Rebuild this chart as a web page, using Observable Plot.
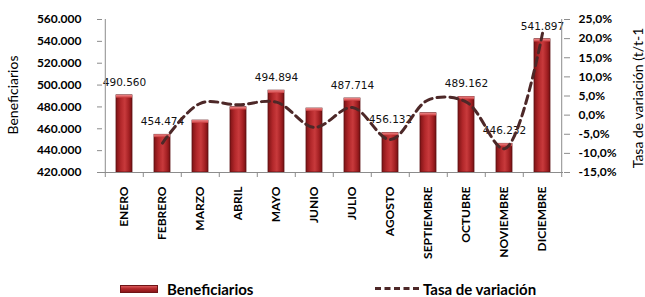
<!DOCTYPE html>
<html>
<head>
<meta charset="utf-8">
<script src="https://cdn.jsdelivr.net/npm/d3@7"></script>
<script src="https://cdn.jsdelivr.net/npm/@observablehq/plot@0.6"></script>
<style>
  html, body { margin: 0; padding: 0; background: #fff; }
  #chart { position: relative; width: 645px; height: 297px; overflow: hidden; }
  .legend { position: relative; height: 17px; font-family: Lato, "Open Sans", sans-serif; font-weight: bold; font-size: 15px; color: #000; }
  .legend .item { position: absolute; top: 0; display: flex; align-items: center; height: 17px; }
  .swatch { width: 38px; height: 8px; background: linear-gradient(#d9595b, #b3282b 45%, #8a1719); border: 1px solid #6e1416; margin-right: 9px; box-sizing: border-box; }
  .dash { width: 44px; height: 0; border-top: 3px dashed #4d2828; margin-right: 4px; }
</style>
</head>
<body>
<div id="chart"></div>
<script>
const months = ["ENERO","FEBRERO","MARZO","ABRIL","MAYO","JUNIO","JULIO","AGOSTO","SEPTIEMBRE","OCTUBRE","NOVIEMBRE","DICIEMBRE"];
const beneficiarios = [490560, 454474, 467500, 479700, 494894, 478500, 487714, 456132, 474200, 489162, 446232, 541897];
const showLabel = [true, true, false, false, true, false, true, true, false, true, true, true];
const tasa = [null, -7.3, 3.1, 2.7, 3.4, -3.2, 2.0, -6.4, 4.0, 3.4, -8.8, 21.4];
const leftTicks = [420000, 440000, 460000, 480000, 500000, 520000, 540000, 560000];
const rightTicks = [-15, -10, -5, 0, 5, 10, 15, 20, 25];

const W = 645, H = 280;
const mL = 102, mR = 82, mT = 19, mB = 108;
const step = (W - mL - mR) / months.length;

const yMin = 420000, yMax = 560000, pMin = -15, pMax = 25;
const toY = p => yMin + (p - pMin) * (yMax - yMin) / (pMax - pMin);

const bars = months.map((m, i) => ({month: m, value: beneficiarios[i], label: showLabel[i]}));
const line = months.map((m, i) => ({month: m, pct: tasa[i]})).filter(d => d.pct !== null);

const fmtThousands = v => d3.format(",.0f")(v).replace(/,/g, ".");
const fmtPct = p => p.toFixed(1).replace(".", ",") + "%";
const tickFont = "Lato, 'Open Sans', sans-serif";

const chart = Plot.plot({
  width: W, height: H,
  marginLeft: mL, marginRight: mR, marginTop: mT, marginBottom: mB,
  style: {fontFamily: tickFont, fontSize: "11px", color: "#000", background: "#fff", overflow: "visible"},
  x: {type: "band", domain: months, paddingInner: 0.58, paddingOuter: 0.29, axis: null},
  y: {domain: [yMin, yMax], axis: null},
  marks: [
    Plot.barY(bars, {x: "month", y1: yMin, y2: "value", fill: "url(#barGrad)", stroke: "#5e1214", strokeWidth: 0.8}),
    Plot.barY(bars, {x: "month", y1: "value", y2: d => d.value - 2600, fill: "url(#topGrad)"}),
    Plot.text(bars.filter(d => d.label), {x: "month", y: "value", text: d => fmtThousands(d.value), dy: -13,
      fontFamily: "'DejaVu Sans', sans-serif", fontSize: 10.5, fill: "#111"}),
    Plot.line(line, {x: "month", y: d => toY(d.pct), curve: "catmull-rom", stroke: "#4d2828", strokeWidth: 3, strokeDasharray: "8,5"}),
    // axis lines
    Plot.ruleY([yMin], {stroke: "#8c8c8c", strokeWidth: 1}),
    Plot.ruleX([months[0]], {x: d => d, dx: -step / 2, stroke: "#8c8c8c"}),
    Plot.ruleX([months[months.length - 1]], {x: d => d, dx: step / 2, stroke: "#8c8c8c"}),
    // category boundary ticks
    Plot.axisX(months, {tickSize: 5, tickFormat: () => "", dx: -step / 2, stroke: "#8c8c8c", label: null}),
    Plot.axisX([months[months.length - 1]], {tickSize: 5, tickFormat: () => "", dx: step / 2, stroke: "#8c8c8c", label: null}),
    // month labels
    Plot.axisX({tickSize: 0, tickRotate: -90, tickPadding: 14, fontWeight: "bold", fontSize: 12, label: null}),
    // left axis
    Plot.axisY(leftTicks, {anchor: "left", tickSize: 5, tickPadding: 16, tickFormat: fmtThousands, fontWeight: "bold", fontSize: 12, stroke: "#8c8c8c", label: null}),
    // right axis
    Plot.axisY(rightTicks.map(toY), {anchor: "right", tickSize: 6, tickPadding: 9, tickFormat: v => fmtPct(pMin + (v - yMin) * (pMax - pMin) / (yMax - yMin)), fontWeight: "bold", fontSize: 12, stroke: "#8c8c8c", label: null})
  ]
});

// gradients
const ns = "http://www.w3.org/2000/svg";
const defs = document.createElementNS(ns, "defs");
defs.innerHTML = `
  <linearGradient id="barGrad" x1="0" x2="1" y1="0" y2="0">
    <stop offset="0" stop-color="#7e1315"/>
    <stop offset="0.3" stop-color="#b3282b"/>
    <stop offset="0.55" stop-color="#c83a3c"/>
    <stop offset="0.8" stop-color="#a52124"/>
    <stop offset="1" stop-color="#761012"/>
  </linearGradient>
  <linearGradient id="topGrad" x1="0" x2="0" y1="0" y2="1">
    <stop offset="0" stop-color="#f08a8b"/>
    <stop offset="1" stop-color="#c83a3c"/>
  </linearGradient>`;
chart.insertBefore(defs, chart.firstChild);

// axis titles
const addTitle = (x, y, txt) => {
  const t = document.createElementNS(ns, "text");
  t.setAttribute("transform", `translate(${x},${y}) rotate(-90)`);
  t.setAttribute("text-anchor", "middle");
  t.setAttribute("dominant-baseline", "middle");
  t.setAttribute("font-family", tickFont);
  t.setAttribute("font-size", "14");
  t.setAttribute("fill", "#000");
  t.textContent = txt;
  chart.appendChild(t);
};
addTitle(14, 95, "Beneficiarios");
addTitle(639, 98, "Tasa de variación (t/t-1");

const root = document.getElementById("chart");
root.appendChild(chart);
const legend = document.createElement("div");
legend.className = "legend";
legend.innerHTML = `<div class="item" style="left:120px"><div class="swatch"></div>Beneficiarios</div>
<div class="item" style="left:375px"><div class="dash"></div>Tasa de variación</div>`;
root.appendChild(legend);
</script>
</body>
</html>
